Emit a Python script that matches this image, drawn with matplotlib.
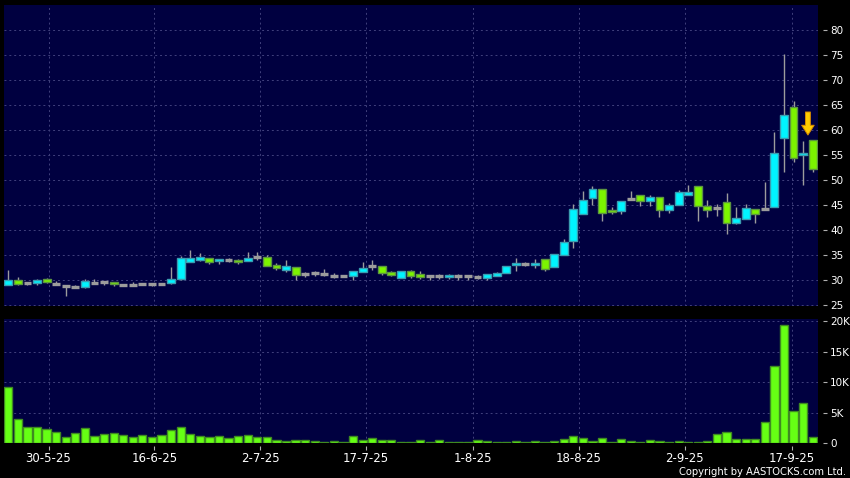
import matplotlib
matplotlib.use("Agg")
import matplotlib.pyplot as plt
import numpy as np

# daily OHLC (85 sessions, 26-5-25 .. 19-9-25)
opens = [29.0, 30.0, 29.33, 29.4, 30.2, 29.27, 28.9, 28.6, 28.6, 29.47,
         29.53, 29.6, 29.07, 29.07, 29.13, 29.13, 29.27, 29.33, 30.2, 33.6,
         34.0, 34.33, 33.8, 34.0, 34.0, 33.73, 34.6, 34.53, 33.0, 32.0,
         32.53, 31.13, 31.33, 31.13, 30.87, 30.87, 30.87, 31.6, 32.87, 32.73,
         31.53, 30.4, 31.8, 31.2, 30.73, 30.73, 30.53, 30.73, 30.73, 30.67,
         30.47, 30.87, 31.4, 33.0, 33.2, 33.0, 34.2, 32.6, 35.0, 37.87,
         43.2, 46.4, 48.2, 44.0, 43.87, 46.2, 47.0, 45.87, 46.67, 44.0,
         45.0, 47.0, 48.87, 44.87, 44.4, 45.53, 41.33, 42.13, 44.13, 44.13,
         44.53, 58.33, 64.67, 55.0, 58.0]
highs = [32.1, 30.7, 29.5, 30.3, 30.5, 29.8, 29.0, 29.07, 30.2, 30.2,
         29.6, 29.6, 29.27, 29.67, 29.27, 29.47, 29.47, 32.67, 34.87, 35.93,
         35.4, 34.4, 34.2, 34.4, 34.13, 35.53, 35.53, 35.0, 33.4, 34.07,
         32.53, 31.67, 31.8, 32.27, 31.4, 31.0, 31.87, 33.67, 34.0, 32.73,
         31.87, 31.8, 32.0, 31.87, 30.8, 31.2, 31.2, 31.2, 31.0, 31.0,
         31.2, 31.6, 32.87, 34.4, 33.67, 34.2, 34.2, 35.2, 38.2, 45.2,
         47.87, 48.73, 48.2, 44.53, 45.73, 47.87, 47.0, 47.0, 46.67, 45.33,
         48.07, 49.07, 48.87, 46.07, 45.2, 47.33, 44.53, 45.2, 44.13, 49.67,
         59.67, 75.2, 65.8, 57.87, 58.0]
lows = [29.0, 29.0, 29.0, 29.1, 29.4, 29.0, 26.9, 28.33, 28.47, 29.4,
        29.07, 28.9, 28.87, 28.73, 28.93, 28.87, 29.07, 29.13, 30.0, 33.53,
        33.8, 33.2, 33.2, 33.53, 33.2, 33.73, 34.07, 32.73, 32.07, 31.53,
        30.0, 30.53, 30.87, 30.87, 30.33, 30.53, 30.0, 31.6, 32.0, 31.0,
        30.73, 30.4, 30.4, 30.2, 30.07, 30.2, 30.2, 30.07, 30.07, 30.2,
        30.07, 30.73, 31.4, 31.73, 32.73, 32.33, 31.73, 32.6, 35.0, 36.4,
        43.2, 45.0, 41.87, 43.2, 43.2, 46.0, 44.87, 44.87, 42.67, 43.33,
        45.0, 47.0, 41.87, 42.67, 42.8, 39.13, 41.13, 42.13, 41.33, 44.0,
        44.53, 51.67, 53.67, 49.0, 51.53]
closes = [30.0, 29.2, 29.33, 30.0, 29.6, 29.27, 28.9, 28.6, 29.8, 29.47,
          29.53, 29.27, 29.07, 29.07, 29.13, 29.13, 29.27, 30.2, 34.4, 34.4,
          34.6, 33.53, 34.2, 34.0, 33.53, 34.33, 34.6, 32.73, 32.4, 32.8,
          31.07, 31.13, 31.33, 31.13, 30.87, 30.87, 31.87, 32.4, 32.87, 31.4,
          30.93, 31.8, 30.75, 30.55, 30.73, 30.73, 31.0, 30.73, 30.73, 30.67,
          31.2, 31.4, 32.87, 33.47, 33.2, 33.47, 32.2, 35.2, 37.6, 44.2,
          46.0, 48.2, 43.4, 43.53, 45.73, 46.2, 45.87, 46.67, 44.0, 45.07,
          47.67, 47.67, 44.87, 44.0, 44.4, 41.33, 42.33, 44.33, 43.2, 44.13,
          55.33, 63.0, 54.33, 55.47, 52.2]
volumes = [9155, 3980, 2620, 2670, 2290, 1800, 980, 1690, 2450, 1250,
           1470, 1740, 1420, 1090, 1360, 1040, 1420, 2130, 2620, 1530,
           1140, 1040, 1250, 870, 1140, 1360, 980, 980, 545, 300,
           600, 490, 330, 270, 440, 220, 1200, 600, 930, 490,
           490, 270, 220, 545, 160, 490, 160, 270, 160, 490,
           380, 160, 160, 380, 160, 380, 220, 380, 760, 1200,
           820, 380, 820, 220, 760, 380, 160, 490, 330, 220,
           380, 270, 270, 380, 1470, 1800, 710, 710, 760, 3540,
           12640, 19290, 5290, 6540, 1040]

date_ticks = [4.2, 15.25, 26.3, 37.35, 48.55, 59.6, 70.65, 81.85]
date_labels = ["30-5-25", "16-6-25", "2-7-25", "17-7-25", "1-8-25",
               "18-8-25", "2-9-25", "17-9-25"]
price_ticks = [25, 30, 35, 40, 45, 50, 55, 60, 65, 70, 75, 80]
vol_ticks = [0, 5000, 10000, 15000, 20000]
vol_labels = ["0", "5K", "10K", "15K", "20K"]
signal_day = 83.5   # yellow arrow position
signal_tip, signal_tail = 59.0, 63.6

BG = "#000040"
GRID = "#40407c"
UP, UP_EDGE = "#00f4ff", "#3a9cb0"
DN, DN_EDGE = "#7cf400", "#5c9640"
WICK = "#9c9c9c"

o = np.array(opens); h = np.array(highs); l = np.array(lows); c = np.array(closes)
x = np.arange(len(o))

fig = plt.figure(figsize=(8.5, 4.78), dpi=100, facecolor="black")
ax_p = fig.add_axes([4 / 850, 1 - 306 / 478, 813.5 / 850, 301 / 478])
ax_v = fig.add_axes([4 / 850, 1 - 443.3 / 478, 813.5 / 850, 124.3 / 478], sharex=ax_p)

for ax in (ax_p, ax_v):
    ax.set_facecolor(BG)
    for s in ax.spines.values():
        s.set_visible(False)
    ax.yaxis.tick_right()
    ax.spines["right"].set_position(("outward", 4))
    ax.spines["bottom"].set_position(("outward", 2))
    ax.tick_params(axis="y", direction="out", length=3, color="#b0b0b0",
                   labelcolor="white", labelsize=7.5, pad=2)
    ax.set_xticks(date_ticks)
    ax.grid(True, color=GRID, linestyle=(0, (2, 3)), linewidth=0.7)
    ax.set_axisbelow(True)

# candles
up = c > o
down = c < o
flat = c == o
ax_p.vlines(x, l, h, color=WICK, linewidth=1, zorder=2)
ax_p.bar(x[up], (c - o)[up], bottom=o[up], width=0.82, color=UP,
         edgecolor=UP_EDGE, linewidth=1, zorder=3)
ax_p.bar(x[down], (o - c)[down], bottom=c[down], width=0.82, color=DN,
         edgecolor=DN_EDGE, linewidth=1, zorder=3)
ax_p.hlines(c[flat], x[flat] - 0.41, x[flat] + 0.41, color=WICK,
            linewidth=2.4, zorder=3)

ax_p.annotate("", xy=(signal_day, signal_tip), xytext=(signal_day, signal_tail),
              arrowprops=dict(arrowstyle="simple,head_length=0.7,head_width=0.9,tail_width=0.35",
                              fc="#ffcc00", ec="#d88a00", lw=0.7,
                              shrinkA=0, shrinkB=0), zorder=5)

ax_p.set_ylim(24.8, 85)
ax_p.set_yticks(price_ticks)
ax_p.tick_params(axis="x", length=0, labelbottom=False)
ax_p.set_xlim(-0.45, 84.5)

# volume
ax_v.bar(x, volumes, width=0.86, color="#66ff14", edgecolor="#3f8a22",
         linewidth=1, zorder=3)
ax_v.set_ylim(0, 20330)
ax_v.set_yticks(vol_ticks)
ax_v.set_yticklabels(vol_labels)
ax_v.set_xticklabels(date_labels)
ax_v.tick_params(axis="x", direction="out", length=3, color="#b0b0b0",
                 labelcolor="white", labelsize=8.5, pad=1.5)

fig.text(846 / 850, 1 - 472 / 478, "Copyright by AASTOCKS.com Ltd.",
         ha="right", va="center", color="white", fontsize=7.2)

fig.savefig("out.png", dpi=100, facecolor="black")
